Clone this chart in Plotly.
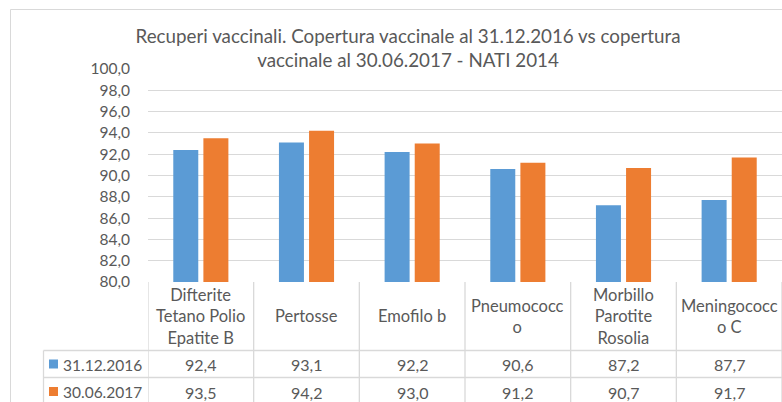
import plotly.graph_objects as go

categories = ["Difterite Tetano Polio Epatite B", "Pertosse", "Emofilo b",
              "Pneumococco", "Morbillo Parotite Rosolia", "Meningococco C"]
header_labels = ["Difterite<br>Tetano Polio<br>Epatite B", "Pertosse", "Emofilo b",
                 "Pneumococc<br>o", "Morbillo<br>Parotite<br>Rosolia", "Meningococc<br>o C"]
series_names = ["31.12.2016", "30.06.2017"]
values_2016 = [92.4, 93.1, 92.2, 90.6, 87.2, 87.7]
values_2017 = [93.5, 94.2, 93.0, 91.2, 90.7, 91.7]
y_ticks = [80, 82, 84, 86, 88, 90, 92, 94, 96, 98, 100]
title_text = ("Recuperi vaccinali. Copertura vaccinale al 31.12.2016 vs copertura<br>"
              "vaccinale al 30.06.2017 - NATI 2014")

colors = ["#5B9BD5", "#ED7D31"]
text_color = "#595959"
line_color = "#D9D9D9"
FONT = "Lato"

W, H = 782, 402
L, R, T, B = 148, 0, 69, 120
pw, ph = W - L - R, H - T - B


def px_x(x):
    return (x - L) / pw


def px_y(y):
    return (H - B - y) / ph


fig = go.Figure()
for name, vals, col in zip(series_names, [values_2016, values_2017], colors):
    fig.add_trace(go.Bar(x=categories, y=vals, name=name, marker_color=col,
                         marker_line_width=0, showlegend=False))

shapes = []
# chart frame
shapes.append(dict(type="line", xref="paper", yref="paper", x0=px_x(10.5), x1=px_x(10.5),
                   y0=px_y(9.5), y1=px_y(410), line=dict(color=line_color, width=1)))
shapes.append(dict(type="line", xref="paper", yref="paper", x0=px_x(10.5), x1=px_x(800),
                   y0=px_y(9.5), y1=px_y(9.5), line=dict(color=line_color, width=1)))
# table vertical lines at category boundaries
for i in range(len(categories) + 1):
    shapes.append(dict(type="line", xref="x", yref="paper", x0=i - 0.5, x1=i - 0.5,
                       y0=0, y1=px_y(410), line=dict(color=line_color, width=1.3)))
# left legend column line
shapes.append(dict(type="line", xref="paper", yref="paper", x0=px_x(43.5), x1=px_x(43.5),
                   y0=px_y(350.5), y1=px_y(410), line=dict(color=line_color, width=1.3)))
# horizontal row lines
for yy in [350.5, 377.5]:
    shapes.append(dict(type="line", xref="paper", yref="paper", x0=px_x(43.5), x1=1,
                       y0=px_y(yy), y1=px_y(yy), line=dict(color=line_color, width=1.3)))

annotations = []
hdr_y = px_y(316)
row_ys = [px_y(364.5), px_y(392)]
for cat, lab in zip(categories, header_labels):
    annotations.append(dict(x=cat, xref="x", y=hdr_y, yref="paper", text=lab, showarrow=False,
                            xanchor="center", yanchor="middle",
                            font=dict(family=FONT, size=16.5, color=text_color)))
for vals, ry in zip([values_2016, values_2017], row_ys):
    for cat, v in zip(categories, vals):
        annotations.append(dict(x=cat, xref="x", y=ry, yref="paper",
                                text=f"{v:.1f}".replace(".", ","), showarrow=False,
                                xanchor="center", yanchor="middle",
                                font=dict(family=FONT, size=16, color=text_color)))
for name, col, ry, cy in zip(series_names, colors, row_ys, [364, 391.5]):
    shapes.append(dict(type="rect", xref="paper", yref="paper", x0=px_x(49), x1=px_x(58),
                       y0=px_y(cy - 4.5), y1=px_y(cy + 4.5), fillcolor=col, line=dict(width=0)))
    annotations.append(dict(x=px_x(61), xref="paper", y=ry, yref="paper", text=name,
                            showarrow=False, xanchor="left", yanchor="middle",
                            font=dict(family=FONT, size=15.5, color=text_color)))

fig.update_layout(
    width=W, height=H,
    margin=dict(l=L, r=R, t=T, b=B, pad=0),
    paper_bgcolor="white", plot_bgcolor="white",
    separators=",.",
    barmode="group", bargap=0.43, bargroupgap=0.17,
    title=dict(text=title_text, xref="container", x=408 / W, xanchor="center",
               yref="container", y=1 - 43 / H, yanchor="middle",
               font=dict(family=FONT, size=18.8, color=text_color)),
    xaxis=dict(showticklabels=False, showgrid=False, zeroline=False, showline=False,
               ticks="", range=[-0.5, len(categories) - 0.5]),
    yaxis=dict(range=[80, 100], tickvals=y_ticks, tickformat=".1f",
               showgrid=True, gridcolor=line_color, gridwidth=1.3, zeroline=False,
               showline=False, ticks="", ticklabelstandoff=17,
               tickfont=dict(family=FONT, size=15.5, color=text_color)),
    shapes=shapes, annotations=annotations,
)

fig.write_html("out.html", config={"displayModeBar": False},
               post_script="document.body.style.margin='0';document.body.style.overflow='hidden';")
